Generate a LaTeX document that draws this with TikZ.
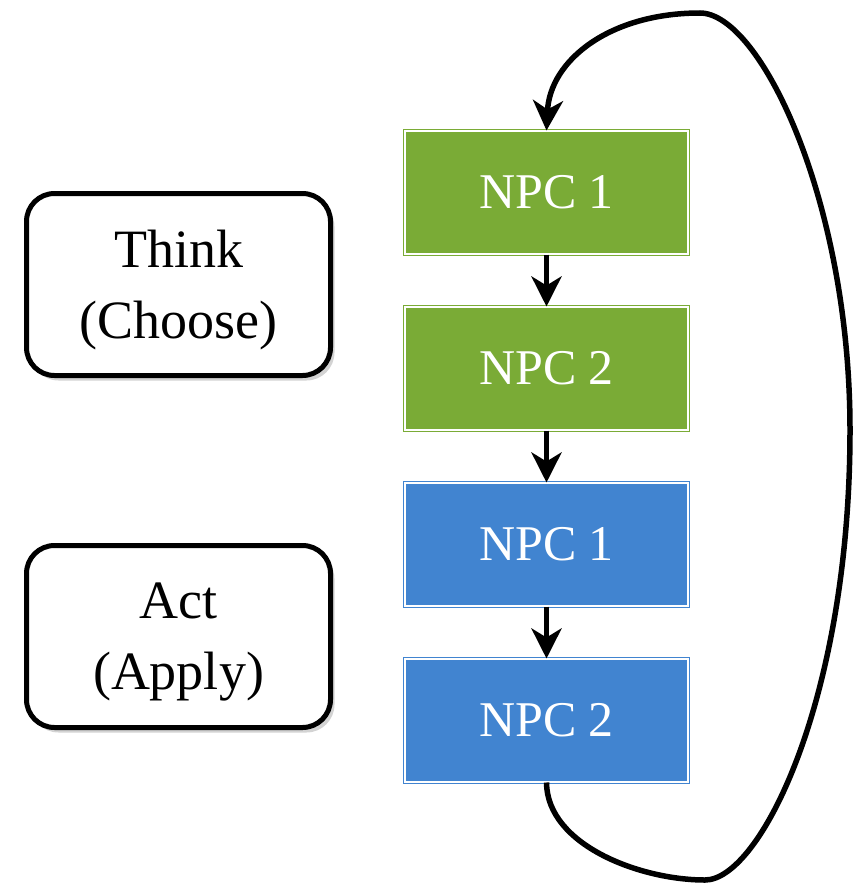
\documentclass[tikz,border=0pt]{standalone}
\usepackage{fontspec}
\newfontfamily\diagfont{Liberation Serif}
\usetikzlibrary{arrows.meta}
\usetikzlibrary{shadows}

\definecolor{npcgreen}{RGB}{122,171,54}
\definecolor{npcblue}{RGB}{65,132,208}

\begin{document}
\begin{tikzpicture}[x=1pt,y=-1pt,
    npc/.style={rectangle,draw=#1,fill=#1,line width=1pt,double=white,double distance=2pt,
      minimum width=283pt,minimum height=123pt,text=white,font=\diagfont\fontsize{50}{60}\selectfont},
    stage/.style={rectangle,rounded corners=28pt,draw,line width=5pt,fill=white,
      minimum width=304pt,minimum height=182pt,align=center,text depth=0pt,
      font=\diagfont\fontsize{54}{71}\selectfont,
      drop shadow={shadow xshift=4pt,shadow yshift=-5pt,opacity=0.35}},
    flow/.style={-{Stealth[length=30pt,width=30pt,inset=9pt]},line width=5.5pt}]

        \useasboundingbox (0,0) rectangle (856,883);

        \node[stage]             (think) at (178.5, 284.5)   {Think\\(Choose)};
        \node[stage]             (act) at (178.5, 636.5)     {Act\\(Apply)};

        \node[npc=npcgreen]      (g1) at (546.5, 192.5)      {NPC 1};
        \node[npc=npcgreen]      (g2) at (546.5, 368.5)      {NPC 2};
        \node[npc=npcblue]       (b1) at (546.5, 544.5)      {NPC 1};
        \node[npc=npcblue]       (b2) at (546.5, 720.5)      {NPC 2};

        \draw[flow] (g1) -- (g2);
        \draw[flow] (g2) -- (b1);
        \draw[flow] (b1) -- (b2);

        % loop back to the first NPC
        \draw[flow] (b2.south) .. controls (547,845) and (640,880) .. (705,880)
              .. controls (760,880) and (850,700) .. (850,430)
              .. controls (850,200) and (760,13) .. (700,13)
              .. controls (610,13) and (550,60) .. (g1.north);
      \end{tikzpicture}
\end{document}
